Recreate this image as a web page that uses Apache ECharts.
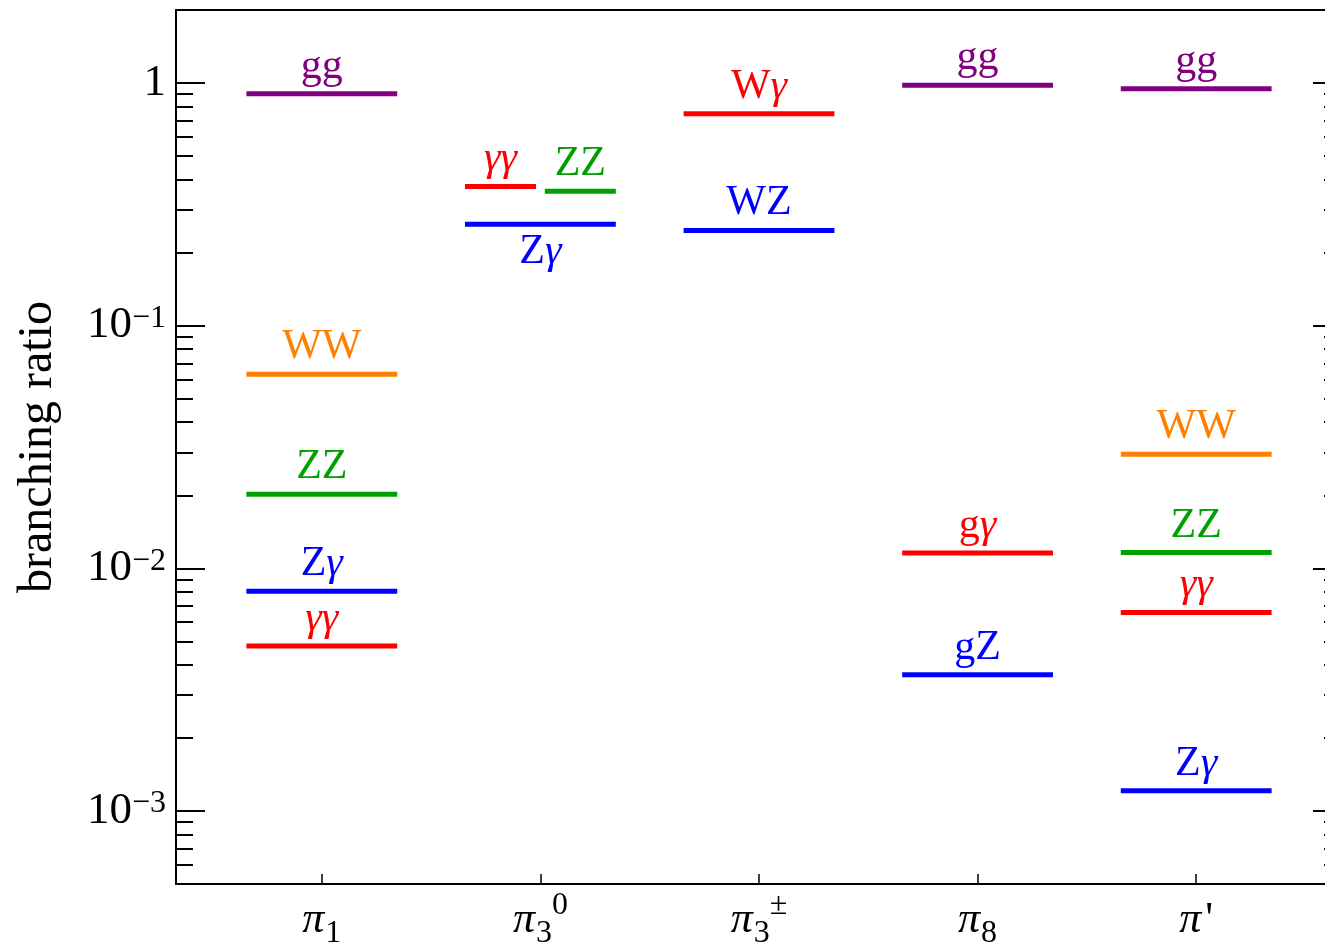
<!DOCTYPE html>
<html><head><meta charset="utf-8">
<script src="https://cdn.jsdelivr.net/npm/echarts@6/dist/echarts.min.js"></script>
<style>html,body{margin:0;padding:0;background:#fff}#c{width:1325px;height:947px}</style>
</head><body><div id="c"></div>
<script>
// ---------- data ----------
const categories = ['π1', 'π3⁰', 'π3±', 'π8', "π'"];
const categoryLabels = ['{pi|π}{sub|1}', '{pi|π}{sub|3}{sup|0}', '{pi|π}{sub|3}{sup|±}', '{pi|π}{sub|8}', "{pi|π}{pr|'}"];
const levelCategory = [0, 0, 0, 0, 0, 1, 1, 1, 2, 2, 3, 3, 3, 4, 4, 4, 4, 4];
const levelChannel = ['gg', 'WW', 'ZZ', 'Zγ', 'γγ', 'γγ', 'ZZ', 'Zγ', 'Wγ', 'WZ', 'gg', 'gγ', 'gZ', 'gg', 'WW', 'ZZ', 'γγ', 'Zγ'];
const levelValue = [0.904, 0.063, 0.0202, 0.00804, 0.00478, 0.375, 0.358, 0.262, 0.748, 0.247, 0.98, 0.01157, 0.00364, 0.948, 0.0295, 0.01161, 0.00658, 0.00121];
const yMajorTicks = [0.001, 0.01, 0.1, 1];
const yMinorTicks = [6e-4, 7e-4, 8e-4, 9e-4,
  2e-3, 3e-3, 4e-3, 5e-3, 6e-3, 7e-3, 8e-3, 9e-3,
  0.02, 0.03, 0.04, 0.05, 0.06, 0.07, 0.08, 0.09,
  0.2, 0.3, 0.4, 0.5, 0.6, 0.7, 0.8, 0.9];
const xTicks = [1, 2, 3, 4, 5];

// ---------- styles / layout ----------
const channelColor = {gg: '#800080', WW: '#ff8000', ZZ: '#00a000', 'Zγ': '#0000ff', WZ: '#0000ff', gZ: '#0000ff',
  'γγ': '#ff0000', 'Wγ': '#ff0000', 'gγ': '#ff0000'};
const splitSlot = {'1|γγ': 'left', '1|ZZ': 'right'};
const labelBelow = {'1|Zγ': true};
const SERIF = '"Liberation Serif", "DejaVu Serif", serif';
const HALF = 0.345, GAP = 0.02;

function richText(ch) {
  return ch.split('').map(c => c === 'γ' ? '{i|γ}' : '{r|' + c + '}').join('');
}

const chart = echarts.init(document.getElementById('c'), null, {renderer: 'canvas'});

const axisLineStyle = {color: '#000', width: 2};
const majorTickStyle = {color: '#000', width: 2};

function yLabel(v) {
  let e;
  if (v <= 0) e = Math.round(v); else e = Math.round(Math.log10(v));
  if (e === 0) return '{n|1}';
  return '{n|10}{s|−' + Math.abs(e) + '}';
}

const option = {
  animation: false,
  backgroundColor: '#fff',
  grid: {left: 176, right: -17, top: 10, bottom: 63, containLabel: false, outerBoundsMode: 'none'},
  xAxis: [
    {
      type: 'value', min: 0.333, max: 5.667, position: 'bottom',
      axisLine: {show: true, lineStyle: axisLineStyle},
      axisTick: {show: true, inside: true, length: 10, customValues: xTicks, lineStyle: {color: '#000', width: 1.5}},
      axisLabel: {
        show: true, customValues: xTicks, margin: 6,
        formatter: v => categoryLabels[Math.round(v) - 1] || '',
        rich: {
          pi: {fontFamily: SERIF, fontStyle: 'italic', fontSize: 44, color: '#000', lineHeight: 60},
          sub: {fontFamily: SERIF, fontSize: 32, color: '#000', verticalAlign: 'bottom', lineHeight: 34, padding: [0, 0, 0, 1]},
          sup: {fontFamily: SERIF, fontSize: 32, color: '#000', verticalAlign: 'top', lineHeight: 34},
          pr: {fontFamily: SERIF, fontSize: 44, color: '#000', lineHeight: 60, padding: [0, 0, 0, 4]}
        }
      },
      splitLine: {show: false}
    },
    {
      type: 'value', min: 0.333, max: 5.667, position: 'top',
      axisLine: {show: true, lineStyle: axisLineStyle},
      axisTick: {show: false}, axisLabel: {show: false}, splitLine: {show: false}
    }
  ],
  yAxis: [
    {
      type: 'log', logBase: 10, min: 5e-4, max: 2, position: 'left',
      name: 'branching ratio', nameLocation: 'middle', nameGap: 114,
      nameTextStyle: {fontFamily: SERIF, fontSize: 48, color: '#000'},
      axisLine: {show: true, lineStyle: axisLineStyle},
      axisTick: {show: true, inside: true, length: 29, customValues: yMajorTicks, lineStyle: majorTickStyle},
      axisLabel: {
        show: true, customValues: yMajorTicks, margin: 10, formatter: yLabel,
        rich: {
          n: {fontFamily: SERIF, fontSize: 45, color: '#000', lineHeight: 46},
          s: {fontFamily: SERIF, fontSize: 32, color: '#000', verticalAlign: 'top', lineHeight: 20}
        }
      },
      splitLine: {show: false}, minorTick: {show: false}
    },
    {
      type: 'log', logBase: 10, min: 5e-4, max: 2, position: 'left',
      axisLine: {show: false},
      axisTick: {show: true, inside: true, length: 17, customValues: yMinorTicks, lineStyle: majorTickStyle},
      axisLabel: {show: false}, splitLine: {show: false}
    },
    {
      type: 'log', logBase: 10, min: 5e-4, max: 2, position: 'right',
      axisLine: {show: true, lineStyle: axisLineStyle},
      axisTick: {show: true, inside: true, length: 29, customValues: yMajorTicks, lineStyle: majorTickStyle},
      axisLabel: {show: false}, splitLine: {show: false}
    },
    {
      type: 'log', logBase: 10, min: 5e-4, max: 2, position: 'right',
      axisLine: {show: false},
      axisTick: {show: true, inside: true, length: 18, customValues: yMinorTicks, lineStyle: majorTickStyle},
      axisLabel: {show: false}, splitLine: {show: false}
    }
  ],
  series: [{
    type: 'custom',
    xAxisIndex: 0, yAxisIndex: 0,
    clip: false,
    data: levelCategory.map((c, i) => [c + 1, levelValue[i]]),
    renderItem: function (params, api) {
      const i = params.dataIndex;
      const cat = api.value(0), v = api.value(1);
      const ch = levelChannel[i];
      const key = levelCategory[i] + '|' + ch;
      const slot = splitSlot[key] || 'full';
      let a = -HALF, b = HALF;
      if (slot === 'left') b = -GAP;
      if (slot === 'right') a = GAP;
      const p0 = api.coord([cat + a, v]);
      const p1 = api.coord([cat + b, v]);
      const y = p0[1];
      const color = channelColor[ch];
      const below = !!labelBelow[key];
      return {
        type: 'group',
        children: [
          {type: 'line', shape: {x1: p0[0], y1: y, x2: p1[0], y2: y}, style: {stroke: color, lineWidth: 5}},
          {type: 'text', x: (p0[0] + p1[0]) / 2, y: below ? y + 7 : y - 6,
            style: {
              text: richText(ch), align: 'center', verticalAlign: below ? 'top' : 'bottom', fill: color,
              fontFamily: SERIF, fontSize: 42,
              rich: {
                r: {fontFamily: SERIF, fontSize: 42, fill: color, lineHeight: 42},
                i: {fontFamily: SERIF, fontSize: 42, fontStyle: 'italic', fill: color, lineHeight: 42}
              }
            }}
        ]
      };
    }
  }]
};
chart.setOption(option);
</script>
</body></html>
